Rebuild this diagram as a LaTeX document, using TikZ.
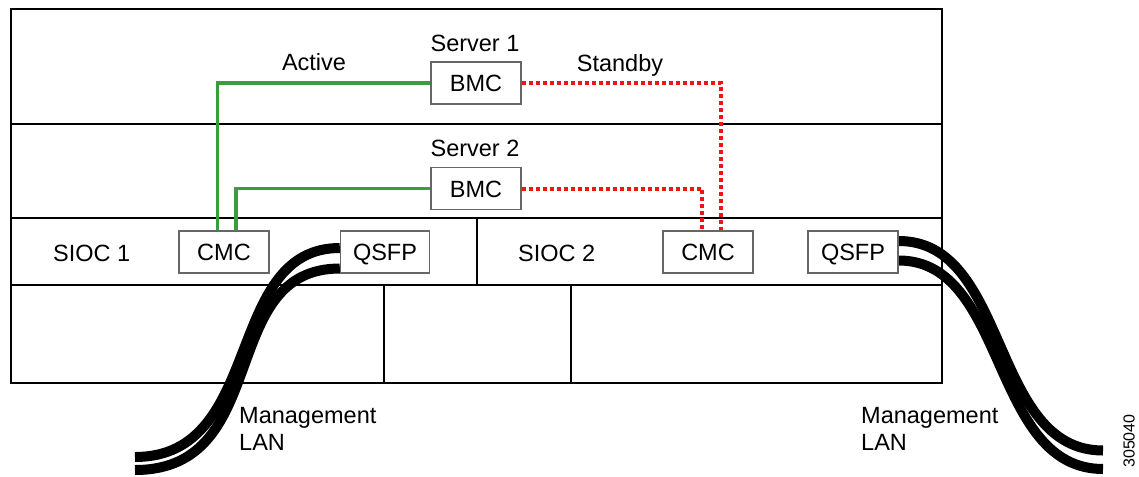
\documentclass[tikz,border=0pt]{standalone}
\usepackage{fontspec}
\setmainfont{Liberation Sans}
\definecolor{actgreen}{RGB}{58,158,58}
\definecolor{sbred}{RGB}{240,20,20}
\pgfdeclarelayer{framelayer}
\pgfdeclarelayer{cablelayer}
\pgfsetlayers{framelayer,cablelayer,main}
\begin{document}
\begin{tikzpicture}[x=1pt,y=-1pt,
  lbl/.style={font=\fontsize{23.5}{27}\selectfont, inner sep=0pt, anchor=base},
  chip/.style={draw=black!60, line width=1.4pt, fill=white, minimum width=90pt,
    minimum height=42pt, inner sep=0pt, text height=17pt, text depth=0pt,
    font=\fontsize{23.5}{27}\selectfont},
  frame/.style={line width=2pt, black},
  activeline/.style={actgreen, line width=3.2pt},
  standbyline/.style={sbred, line width=4pt, dash pattern=on 4pt off 3pt},
  cableb/.style={black, line width=10pt}]

% chips
\node[chip] (bmc1) at (476,83) {BMC};
\node[chip] (bmc2) at (476,188.5) {BMC};
\node[chip] (cmc1) at (224,252) {CMC};
\node[chip] (cmc2) at (708,252) {CMC};
\node[chip, minimum width=89pt] (qsfp1) at (385,252) {QSFP};
\node[chip] (qsfp2) at (853,252) {QSFP};

% frame
\begin{pgfonlayer}{framelayer}
\fill[white] (0,0) rectangle (1139,476);
\draw[frame] (11,9) rectangle (942,383);
\draw[frame] (11,124) -- (942,124);
\draw[frame] (11,218) -- (942,218);
\draw[frame] (11,285) -- (942,285);
\draw[frame] (476.5,218) -- (476.5,285);
\draw[frame] (384,285) -- (384,383);
\draw[frame] (570.5,285) -- (570.5,383);
\end{pgfonlayer}

% cables
\coordinate (l1) at (135,457);
\coordinate (l2) at (135,470);
\coordinate (r1) at (1103,450.5);
\coordinate (r2) at (1103,469);
\begin{pgfonlayer}{cablelayer}
\draw[cableb] ([yshift=4pt]qsfp1.west) .. controls (223,248) and (265.5,457) .. (l1);
\draw[cableb] ([yshift=-16.5pt]qsfp1.west) .. controls (215.6,268.5) and (273.8,470) .. (l2);
\draw[cableb] ([yshift=11pt]qsfp2.east) .. controls (1010,241) and (990,450.5) .. (r1);
\draw[cableb] ([yshift=-8.5pt]qsfp2.east) .. controls (1008,260.5) and (990,469) .. (r2);
\end{pgfonlayer}

% connections
\draw[activeline] (bmc1.west) -| ([xshift=-6.7pt]cmc1.north);
\draw[activeline] (bmc2.west) -| ([xshift=12pt]cmc1.north);
\draw[standbyline] (bmc1.east) -| ([xshift=12.5pt]cmc2.north);
\draw[standbyline] (bmc2.east) -| ([xshift=-6pt]cmc2.north);

% labels
\node[lbl] (srv1) at (475,52) {Server 1};
\node[lbl] (srv2) at (475,156) {Server 2};
\node[lbl] (act) at (314,71) {Active};
\node[lbl] (stb) at (620,72) {Standby};
\node[lbl, anchor=base west] (sioc1) at (53,261) {SIOC 1};
\node[lbl, anchor=base west] (sioc2) at (518,261) {SIOC 2};
\node[lbl, anchor=north west, align=left] (lan1) at (239,407) {Management\\LAN};
\node[lbl, anchor=north west, align=left] (lan2) at (861,407) {Management\\LAN};
\node[font=\fontsize{16}{18}\selectfont, inner sep=0pt, rotate=90] (fig) at (1129,441) {305040};

\useasboundingbox (0,0) rectangle (1139,476);
\end{tikzpicture}
\end{document}
